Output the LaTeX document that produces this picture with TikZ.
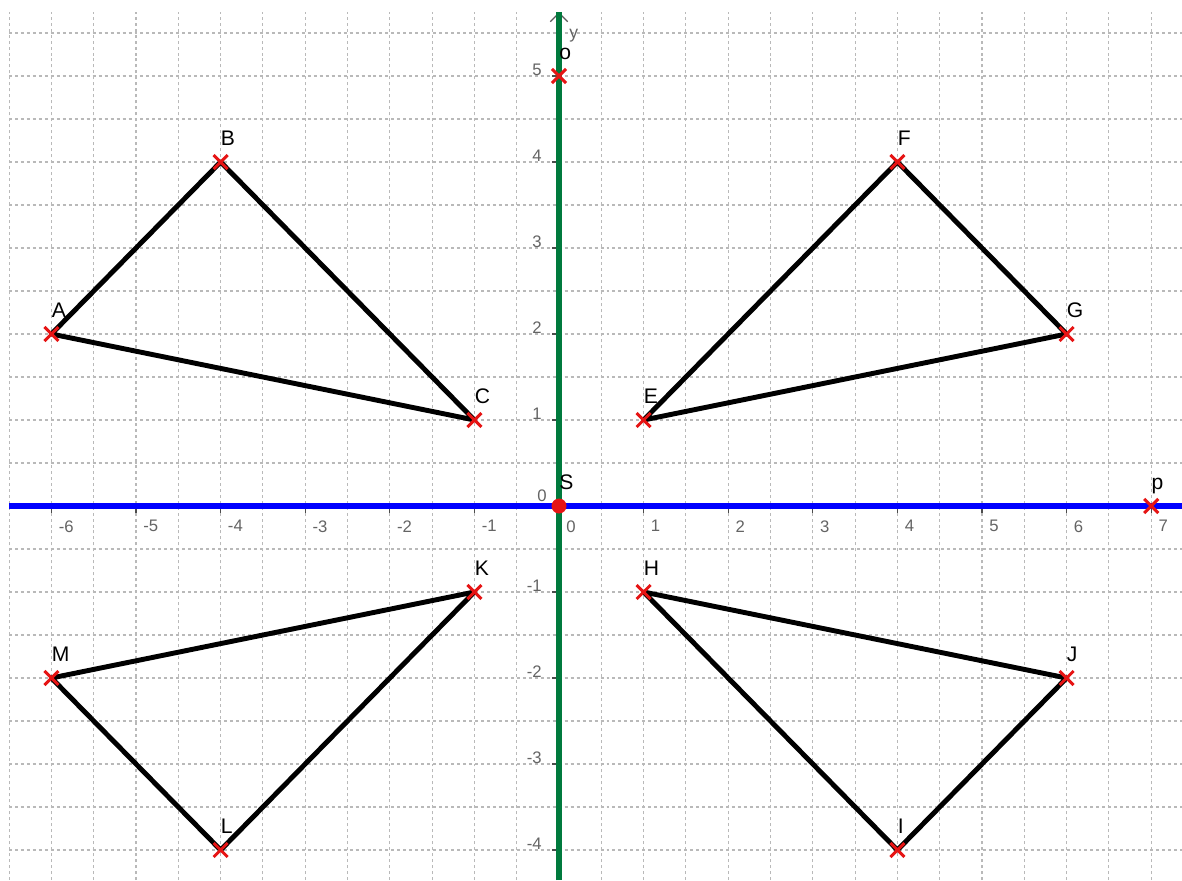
\documentclass[tikz,border=0pt]{standalone}
\usepackage{fontspec}
\setmainfont{Liberation Sans}
\usetikzlibrary{arrows.meta}
\definecolor{cGrid}{RGB}{185,185,185}
\definecolor{cNum}{RGB}{100,100,100}
\definecolor{cAxisX}{RGB}{0,0,255}
\definecolor{cAxisY}{RGB}{0,122,61}
\definecolor{cMark}{RGB}{230,20,20}
\tikzset{
	gridline/.style ={cGrid, line width=0.6pt, dash pattern=on 1.7pt off 1.7pt},
	xaxisline/.style={cAxisX, line width=3pt},
	yaxisline/.style={cAxisY, line width=3pt},
	axisarrow/.style={black!65, line width=0.7pt, -{Straight Barb[length=5pt, width=10pt]}},
	tickmark/.style ={black!70, line width=0.6pt},
	xnum/.style     ={anchor=north west, inner sep=0pt, text=cNum, font=\fontsize{9.5}{11}\selectfont, xshift=0.14cm, yshift=-0.28cm},
	ynum/.style     ={anchor=south east, inner sep=0pt, text=cNum, font=\fontsize{9.5}{11}\selectfont, xshift=-0.34cm},
	ptlabel/.style  ={anchor=base west, inner sep=0pt, font=\fontsize{12}{14}\selectfont, yshift=0.34cm},
	tri/.style      ={black, line width=2.8pt, line join=round},
	ptcross/.style  ={cMark, line width=1.7pt},
}
\newcommand{\xNum}[2]{%
	\draw[tickmark] (#1,0) -- ++(0,-4pt);
	\node[xnum] (#2) at (#1,0) {#1};}
\newcommand{\yNum}[2]{%
	\draw[tickmark] (0,#1) -- ++(-4pt,0);
	\node[ynum] (#2) at (0,#1) {#1};}
\newcommand{\ptCross}[1]{%
	\draw[ptcross] (#1) ++(-4pt,-4pt) -- ++(8pt,8pt);
	\draw[ptcross] (#1) ++(-4pt,4pt) -- ++(8pt,-8pt);}

\begin{document}
\begin{tikzpicture}[x=1.692cm, y=1.72cm]
	\useasboundingbox (-6.608,-4.349) rectangle (7.364,5.884);
	\fill[white] (-6.608,-4.349) rectangle (7.364,5.884);
	% grid
	\draw[gridline, step=0.5] (-6.501,-4.349) grid (7.364,5.744);
	% axis numbers
	\xNum{-6}{xm6} \xNum{-5}{xm5} \xNum{-4}{xm4} \xNum{-3}{xm3}
	\xNum{-2}{xm2} \xNum{-1}{xm1} \xNum{0}{xz}
	\xNum{1}{xp1} \xNum{2}{xp2} \xNum{3}{xp3} \xNum{4}{xp4}
	\xNum{5}{xp5} \xNum{6}{xp6} \xNum{7}{xp7}
	\yNum{-4}{ym4} \yNum{-3}{ym3} \yNum{-2}{ym2} \yNum{-1}{ym1}
	\yNum{1}{yp1} \yNum{2}{yp2} \yNum{3}{yp3} \yNum{4}{yp4} \yNum{5}{yp5}
	\node[ynum, xshift=0.1cm, yshift=0.08cm] (yz) at (0,0) {0};
	% axes
	\coordinate (xleft) at (-6.5,0);
	\coordinate (xright) at (7.364,0);
	\coordinate (ybot) at (0,-4.349);
	\coordinate (ytop) at (0,5.744);
	\draw[axisarrow] (0,5.3) -- (ytop);
	\draw[yaxisline] (ybot) -- (ytop);
	\draw[xaxisline] (xleft) -- (xright);
	\node[anchor=base west, inner sep=0pt, text=cNum, font=\fontsize{10}{12}\selectfont] (ylab) at (0.118,5.442) {y};
	% points
	\coordinate (A) at (-6,2);
	\coordinate (B) at (-4,4);
	\coordinate (C) at (-1,1);
	\coordinate (E) at (1,1);
	\coordinate (F) at (4,4);
	\coordinate (G) at (6,2);
	\coordinate (H) at (1,-1);
	\coordinate (I) at (4,-4);
	\coordinate (J) at (6,-2);
	\coordinate (K) at (-1,-1);
	\coordinate (L) at (-4,-4);
	\coordinate (M) at (-6,-2);
	\coordinate (S) at (0,0);
	\coordinate (o) at (0,5);
	\coordinate (p) at (7,0);
	% triangles
	\draw[tri] (A) -- (B) -- (C) -- cycle;
	\draw[tri] (E) -- (F) -- (G) -- cycle;
	\draw[tri] (H) -- (I) -- (J) -- cycle;
	\draw[tri] (K) -- (L) -- (M) -- cycle;
	% markers
	\ptCross{A} \ptCross{B} \ptCross{C} \ptCross{E} \ptCross{F}
	\ptCross{G} \ptCross{H} \ptCross{I} \ptCross{J} \ptCross{K}
	\ptCross{L} \ptCross{M} \ptCross{o} \ptCross{p}
	\fill[cMark] (S) circle (0.15cm);
	% labels
	\node[ptlabel] (lA) at (A) {A};
	\node[ptlabel] (lB) at (B) {B};
	\node[ptlabel] (lC) at (C) {C};
	\node[ptlabel] (lE) at (E) {E};
	\node[ptlabel] (lF) at (F) {F};
	\node[ptlabel] (lG) at (G) {G};
	\node[ptlabel] (lH) at (H) {H};
	\node[ptlabel] (lI) at (I) {I};
	\node[ptlabel] (lJ) at (J) {J};
	\node[ptlabel] (lK) at (K) {K};
	\node[ptlabel] (lL) at (L) {L};
	\node[ptlabel] (lM) at (M) {M};
	\node[ptlabel] (lS) at (S) {S};
	\node[ptlabel] (lo) at (o) {o};
	\node[ptlabel] (lp) at (p) {p};
\end{tikzpicture}
\end{document}
